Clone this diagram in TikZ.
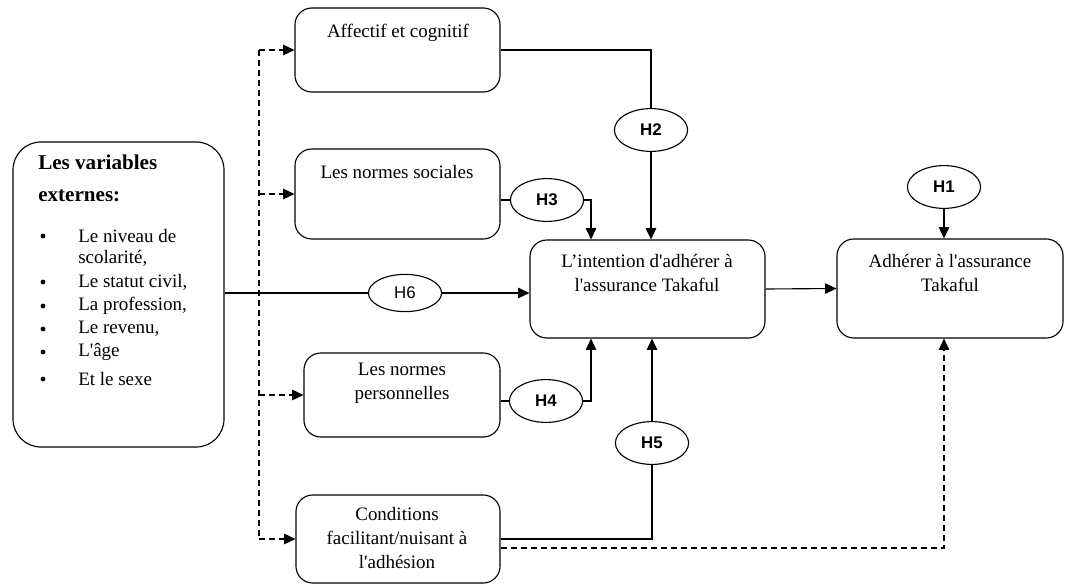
\documentclass[tikz,border=0pt]{standalone}
\usepackage{fontspec}
\setmainfont{Liberation Serif}[Ligatures=TeXOff]
\newfontfamily\hfont{Liberation Sans}
\usetikzlibrary{arrows.meta}
\usetikzlibrary{shapes.geometric}

\begin{document}
\begin{tikzpicture}[x=0.025cm, y=-0.025cm,
        boite/.style={draw, line width=0.8pt, rounded corners=0.42cm},
        hyp/.style={draw, ellipse, line width=0.8pt, inner sep=0pt, minimum width=1.83cm, minimum height=1.07cm, font=\hfont\bfseries\fontsize{12}{14}\selectfont},
        texte/.style={align=center, font=\fontsize{13.5}{17}\selectfont},
        lien/.style={line width=0.8pt},
        tiret/.style={line width=0.8pt, dash pattern=on 1.5mm off 1mm},
        fleche/.style={-{Triangle[length=2.8mm, width=2.6mm]}}]
        \useasboundingbox (0,0) rectangle (1065,584);
        \foreach \n/\x/\y/\w/\h in {aff/397.5/50/5.125/2.1, soc/397.5/194/5.125/2.25, inten/647.5/289/5.875/2.45, adh/950/288.5/5.65/2.475, pers/402/395/4.9/2.1, cond/398/539/5.1/2.2} {
                \node[boite, minimum width=\w cm, minimum height=\h cm] (\n) at (\x,\y) {};
            }
        \node[boite, rounded corners=0.7cm, minimum width=5.275cm, minimum height=7.625cm] (ext) at (118.5,294.5) {};
        \node[texte] (t-aff) at (398,33) {Affectif et cognitif};
        \node[texte] (t-soc) at (397,172) {Les normes sociales};
        \node[texte] (t-inten) at (647,273) {L’intention d'adhérer à\\l'assurance Takaful};
        \node[texte] (t-adh) at (950,273) {Adhérer à l'assurance\\Takaful};
        \node[texte] (t-pers) at (402,383) {Les normes\\personnelles};
        \node[texte] (t-cond) at (397,538) {Conditions\\facilitant/nuisant à\\l'adhésion};
        \node[anchor=west, inner sep=0pt, font=\bfseries\fontsize{15}{18}\selectfont] (t-ext1) at (38,162) {Les variables};
        \node[anchor=west, inner sep=0pt, font=\bfseries\fontsize{15}{18}\selectfont] (t-ext2) at (38,196) {externes:};
        \foreach \y [count=\i] in {236, 282, 306, 329, 352, 379} {
                \node[circle, fill, inner sep=0pt, minimum size=0.12cm] (b\i) at (43,\y) {};
            }
        \foreach \y/\t [count=\i] in {236/{Le niveau de}, 258/{scolarité,}, 282/{Le statut civil,}, 306/{La profession,}, 329/{Le revenu,}, 352/{L'âge}, 379/{Et le sexe}} {
                \node[anchor=west, inner sep=0pt, font=\fontsize{13.5}{17}\selectfont] (v\i) at (78,\y) {\t};
            }
        \node[hyp] (h1) at (944,187) {H1};
        \node[hyp] (h2) at (651,130) {H2};
        \node[hyp] (h3) at (547,200) {H3};
        \node[hyp] (h4) at (546,401) {H4};
        \node[hyp] (h5) at (652,443) {H5};
        \node[hyp, minimum height=0.93cm, font=\hfont\fontsize{12}{14}\selectfont] (h6) at (405,293) {H6};
        \coordinate (jx) at (591,0);
        \coordinate (v) at (259,0);
        \draw[lien] (aff.east) -| (h2.north);
        \draw[lien, fleche] (h2.south) -- (h2.south |- inten.north);
        \draw[lien] (soc.east |- h3.west) -- (h3.west);
        \draw[lien, fleche] (h3.east) -| (jx |- inten.north);
        \draw[lien] (ext.east |- h6.west) -- (h6.west);
        \draw[lien, fleche] (h6.east) -- (h6.east -| inten.west);
        \draw[lien] (pers.east |- h4.west) -- (h4.west);
        \draw[lien, fleche] (h4.east) -| (jx |- inten.south);
        \draw[lien] (cond.east) -| (h5.south);
        \draw[lien, fleche] (h5.north) -- (h5.north |- inten.south);
        \draw[lien, fleche] (inten.east) -- (adh.west);
        \draw[lien, fleche] (h1.south) -- (h1.south |- adh.north);
        \draw[tiret, fleche] ([yshift=-0.225cm]cond.east) -| (h1 |- adh.south);
        \draw[tiret] (v |- aff.west) -- (v |- cond.west);
        \foreach \n in {aff, soc, pers, cond} {
                \draw[tiret, fleche] (v |- \n.west) -- (\n.west);
            }
    \end{tikzpicture}
\end{document}
